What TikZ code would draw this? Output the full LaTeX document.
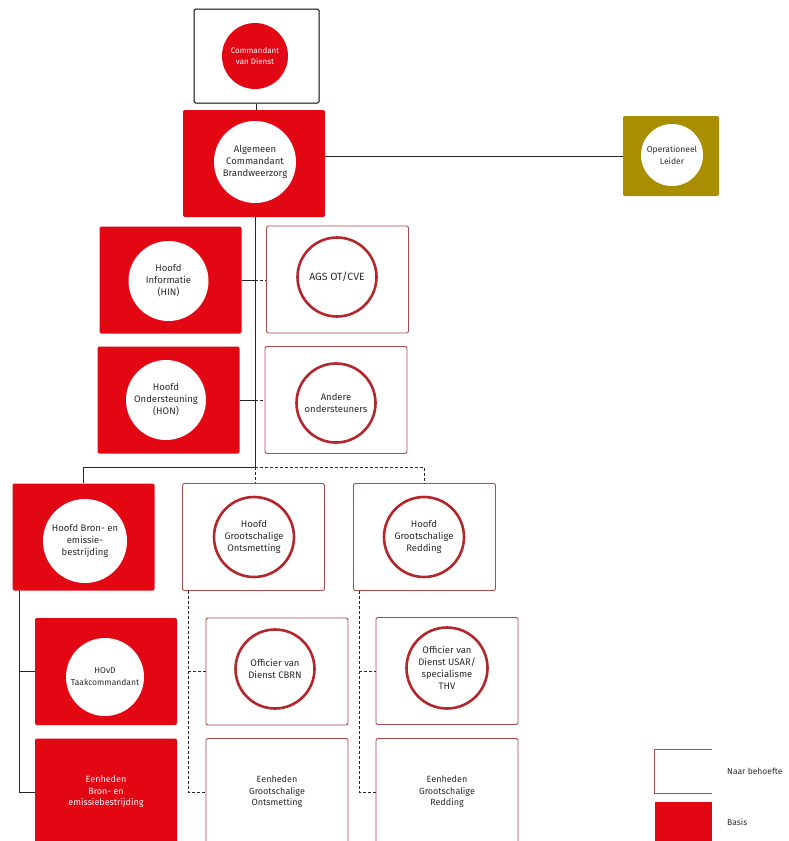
\documentclass[tikz,border=0pt]{standalone}
\usepackage{fontspec}
\setmainfont{Fira Sans}
\definecolor{brwrood}{HTML}{E30613}
\definecolor{cirkelrand}{HTML}{B3262B}
\definecolor{kaderrand}{HTML}{B0494B}
\definecolor{olijf}{HTML}{A88E00}
\definecolor{tekst}{HTML}{2B2B2B}

\begin{document}
\begin{tikzpicture}[x=1pt,y=-1pt,
        basis/.style={rectangle,fill=brwrood,rounded corners=2pt,minimum width=142pt,minimum height=107pt,inner sep=0pt},
        optie/.style={rectangle,draw=kaderrand,line width=0.9pt,fill=white,rounded corners=2pt,minimum width=142pt,minimum height=107pt,inner sep=0pt},
        wit/.style={circle,fill=white,minimum size=80pt,inner sep=0pt,align=center,text=tekst,font=\fontsize{9.5}{12}\selectfont},
        rand/.style={wit,draw=cirkelrand,line width=2.6pt,minimum size=79pt},
        lijn/.style={line width=1pt,black!85},
        stip/.style={lijn,dash pattern=on 3pt off 2pt}]
        \useasboundingbox[fill=white](0,0)rectangle(788,841);

        % leiding
        \node[draw=black,line width=1pt,fill=white,rounded corners=1.5pt,minimum width=125pt,minimum height=94pt](cvd)at(256.5,56){};
        \node[circle,fill=brwrood,minimum size=66pt,inner sep=0pt,text=white,align=center,font=\fontsize{8}{10.5}\selectfont](cvdc)at(255,56){Commandant\\van Dienst};
        \node[basis](acb)at(254,163.5){};
        \node[wit,minimum size=82pt](acbc)at(255,162){Algemeen\\Commandant\\Brandweerzorg};
        \node[basis,fill=olijf,minimum width=96pt,minimum height=80pt](ol)at(671,156){};
        \node[wit,minimum size=62pt,font=\fontsize{8.5}{12}\selectfont](olc)at(672,155){Operationeel\\Leider};

        % staf
        \node[basis](hin)at(170.5,280){};
        \node[wit](hinc)at(168.5,281){Hoofd\\Informatie\\(HIN)};
        \node[optie](ags)at(337.5,279.5){};
        \node[rand,font=\fontsize{10.5}{12}\selectfont](agsc)at(337,277){AGS OT/CVE};
        \node[basis](hon)at(168.5,400){};
        \node[wit](honc)at(166,400){Hoofd\\Ondersteuning\\(HON)};
        \node[optie](ando)at(336,400){};
        \node[rand](andoc)at(336,403){Andere\\ondersteuners};

        % hoofden
        \node[basis](hbe)at(83.5,537){};
        \node[wit,minimum size=84pt](hbec)at(85,541){Hoofd Bron- en\\emissie-\\bestrijding};
        \node[optie](hgo)at(253.5,537){};
        \node[rand,minimum size=80pt](hgoc)at(254,537){Hoofd\\Grootschalige\\Ontsmetting};
        \node[optie](hgr)at(424.5,537){};
        \node[rand,minimum size=80pt](hgrc)at(424,537){Hoofd\\Grootschalige\\Redding};

        % officieren
        \node[basis](hovd)at(106,671.5){};
        \node[wit,minimum size=78pt,font=\fontsize{8.5}{12}\selectfont](hovdc)at(105,677){HOvD\\Taakcommandant};
        \node[optie](cbrn)at(277,671.5){};
        \node[rand](cbrnc)at(275,669){Officier van\\Dienst CBRN};
        \node[optie](usar)at(447,671){};
        \node[rand,minimum size=81pt](usarc)at(447,668){Officier van\\Dienst USAR/\\specialisme\\THV};

        % eenheden
        \node[basis,text=white,align=center,font=\fontsize{9}{11.5}\selectfont](ebe)at(106,792){Eenheden\\Bron- en\\emissiebestrijding};
        \node[optie,text=tekst,align=center,font=\fontsize{9}{11.5}\selectfont](ego)at(277,792){Eenheden\\Grootschalige\\Ontsmetting};
        \node[optie,text=tekst,align=center,font=\fontsize{9}{11.5}\selectfont](egr)at(447,792){Eenheden\\Grootschalige\\Redding};

        % legenda
        \node[minimum width=57pt,minimum height=44pt,inner sep=0pt](lgopt)at(683.5,771.5){};
        \draw[kaderrand,line width=0.8pt](lgopt.north east)--(lgopt.north west)--(lgopt.south west)--(lgopt.south east);
        \node[right,inner sep=0pt,text=tekst,font=\fontsize{8.5}{10}\selectfont](lgopttxt)at(727,771){Naar behoefte};
        \node[fill=brwrood,minimum width=57pt,minimum height=45pt,inner sep=0pt](lgbas)at(683.5,824.5){};
        \node[right,inner sep=0pt,text=tekst,font=\fontsize{8.5}{10}\selectfont](lgbastxt)at(727,822){Basis};

        % lijnen
        \coordinate(knoop)at(255,467);
        \draw[lijn](cvd.south)--(cvd.south|-acb.north);
        \draw[lijn](acb.east|-ol.west)--(ol.west);
        \draw[lijn](acb.south-|knoop)--(knoop);
        \draw[lijn](hin.east)--(hin.east-|knoop);
        \draw[stip](hin.east-|knoop)--(ags.west|-hin.east);
        \draw[lijn](hon.east)--(hon.east-|knoop);
        \draw[stip](hon.east-|knoop)--(ando.west|-hon.east);
        \draw[lijn](knoop)-|(hbe.north);
        \draw[stip](knoop)-|(hgr.north);
        \draw[stip](knoop)--(knoop|-hgo.north);
        \draw[lijn]([xshift=7pt]hbe.south west)|-(hovd.west);
        \draw[lijn]([xshift=7pt]hbe.south west)|-(ebe.west);
        \draw[stip]([xshift=6pt]hgo.south west)|-(cbrn.west);
        \draw[stip]([xshift=6pt]hgo.south west)|-(ego.west);
        \draw[stip]([xshift=6pt]hgr.south west)|-(usar.west);
        \draw[stip]([xshift=6pt]hgr.south west)|-(egr.west);
    \end{tikzpicture}
\end{document}
